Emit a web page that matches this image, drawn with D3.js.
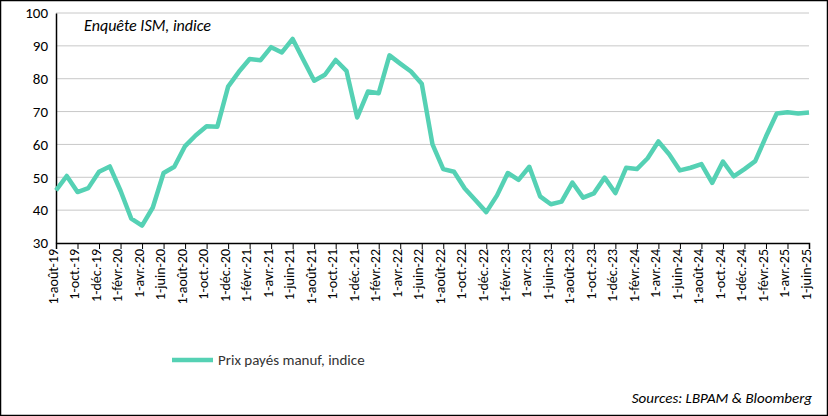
<!DOCTYPE html>
<html><head><meta charset="utf-8">
<script src="https://cdn.jsdelivr.net/npm/d3@7"></script>
<style>body{margin:0;background:#fff}text{font-family:Calibri,Carlito,Lato,"Liberation Sans",Arial,sans-serif}</style>
</head><body><svg id="c" width="828" height="416"></svg>
<script>
const monthNames=["janv.","févr.","mars","avr.","mai","juin","juil.","août","sept.","oct.","nov.","déc."];
const startYear=2019, startMonth=7; // août 2019
const values=[46.0,50.4,45.5,46.7,51.7,
53.3,45.9,37.4,35.3,40.8,51.3,53.2,59.5,62.8,65.5,65.4,77.6,
82.1,86.0,85.6,89.6,88.0,92.1,85.7,79.4,81.2,85.7,82.4,68.2,
76.1,75.6,87.1,84.6,82.2,78.5,60.0,52.5,51.7,46.6,43.0,39.4,
44.5,51.3,49.2,53.2,44.2,41.8,42.6,48.4,43.8,45.1,49.9,45.2,
52.9,52.5,55.8,60.9,57.0,52.1,52.9,54.0,48.3,54.8,50.3,52.5,
54.9,62.4,69.4,69.8,69.4,69.7];
const yTicks=[30,40,50,60,70,80,90,100];
const seriesName="Prix payés manuf, indice";
const labels=values.map((v,i)=>{const m=(startMonth+i)%12,y=startYear+Math.floor((startMonth+i)/12);return "1-"+monthNames[m]+"-"+(String(y).slice(2));});

const svg=d3.select("#c");
svg.append("rect").attr("x",0.5).attr("y",0.5).attr("width",827).attr("height",415).attr("fill","#fff").attr("stroke","#000").attr("stroke-width",1.5);
const L=56,R=809,T=13,B=243;
const x=d3.scaleLinear().domain([0,values.length-1]).range([L,R]);
const y=d3.scaleLinear().domain([30,100]).range([B,T]);
svg.append("g").selectAll("line").data(yTicks.slice(1)).join("line")
 .attr("x1",L).attr("x2",R).attr("y1",d=>y(d)).attr("y2",d=>y(d)).attr("stroke","#c8c8c8").attr("stroke-width",1);
const ya=svg.append("g").attr("transform",`translate(${L},0)`).call(d3.axisLeft(y).tickValues(yTicks).tickSize(0).tickPadding(8));
ya.select(".domain").attr("stroke","#000").attr("stroke-width",1.5);
ya.selectAll("text").attr("font-size",15).attr("fill","#000");
const xa=svg.append("g").attr("transform",`translate(0,${B})`).call(d3.axisBottom(x).tickValues(d3.range(0,values.length,2)).tickSize(6).tickFormat(i=>labels[i]));
xa.select(".domain").attr("stroke","#000").attr("stroke-width",1.5);
xa.selectAll("line").attr("stroke","#000");
xa.selectAll("text").attr("font-size",14).attr("fill","#000").attr("transform","rotate(-90)").attr("text-anchor","end").attr("dx","-6").attr("dy","-0.2em").attr("x",0).attr("y",4);
svg.append("path").datum(values).attr("fill","none").attr("stroke","#55d1b4").attr("stroke-width",4.5).attr("stroke-linejoin","round")
 .attr("d",d3.line().x((d,i)=>x(i)).y(d=>y(d)));
svg.append("text").attr("x",84).attr("y",31).attr("font-size",16).attr("font-style","italic").text("Enquête ISM, indice");
svg.append("line").attr("x1",172).attr("x2",213).attr("y1",360).attr("y2",360).attr("stroke","#55d1b4").attr("stroke-width",4.5);
svg.append("text").attr("x",218).attr("y",365).attr("font-size",15).attr("fill","#333").text(seriesName);
svg.append("text").attr("x",812).attr("y",403).attr("text-anchor","end").attr("font-size",15).attr("font-style","italic").text("Sources: LBPAM & Bloomberg");
</script></body></html>
